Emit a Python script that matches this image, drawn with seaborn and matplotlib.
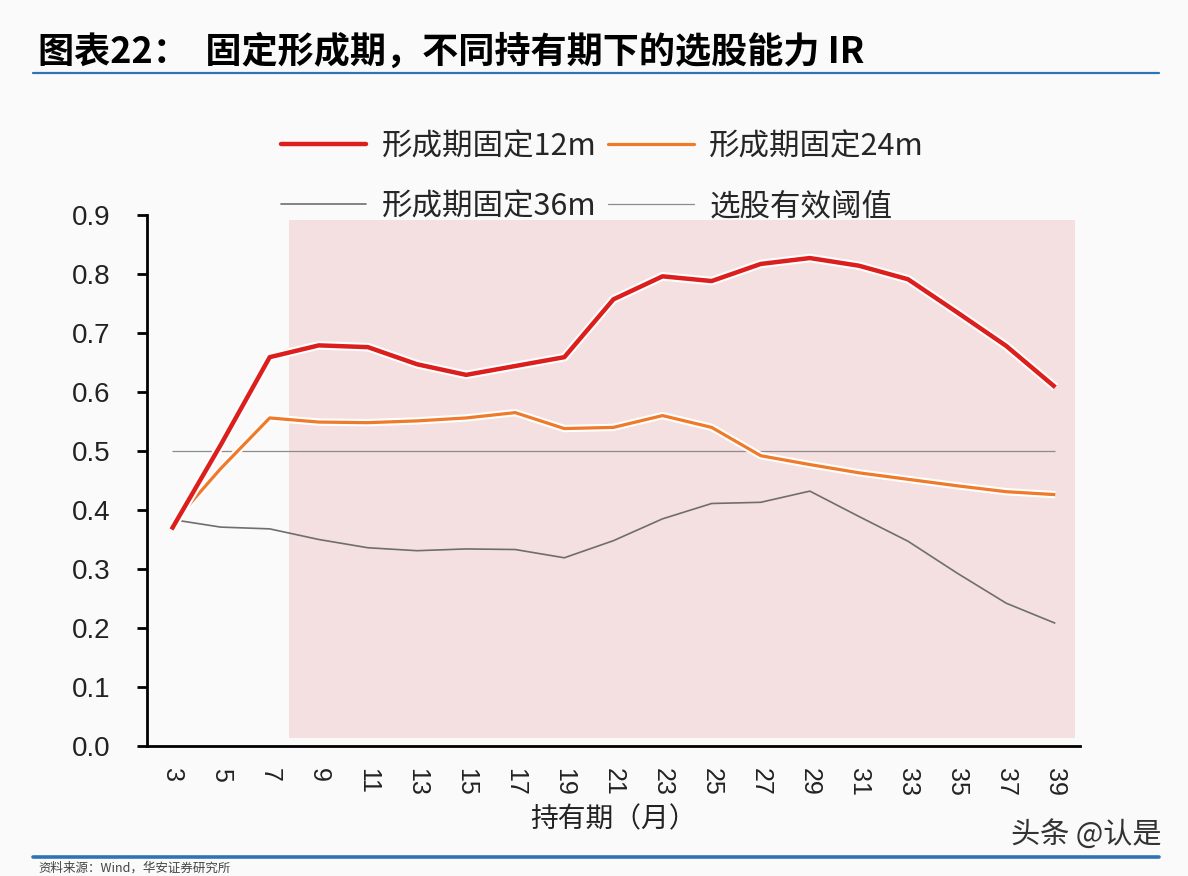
import matplotlib
matplotlib.use("Agg")
import matplotlib.pyplot as plt
import matplotlib.patheffects as pe
from matplotlib.lines import Line2D
import pandas as pd
import seaborn as sns

# holding period (months)
periods = [3, 5, 7, 9, 11, 13, 15, 17, 19, 21, 23, 25, 27, 29, 31, 33, 35, 37, 39]
tick_labels = [str(p) for p in periods]

ir_12m = [0.367, 0.51, 0.659, 0.679, 0.676, 0.647, 0.629, 0.644, 0.659, 0.757,
          0.796, 0.788, 0.817, 0.827, 0.814, 0.791, 0.735, 0.678, 0.608]
ir_24m = [0.375, 0.47, 0.556, 0.549, 0.548, 0.551, 0.556, 0.565, 0.538, 0.540,
          0.560, 0.540, 0.492, 0.477, 0.463, 0.452, 0.441, 0.431, 0.426]
ir_36m = [0.384, 0.371, 0.368, 0.350, 0.336, 0.331, 0.334, 0.333, 0.319, 0.348,
          0.385, 0.411, 0.413, 0.432, 0.389, 0.347, 0.293, 0.242, 0.208]
threshold = [0.5] * len(periods)

names = ["形成期固定12m", "形成期固定24m", "形成期固定36m", "选股有效阈值"]
colors = ["#dc1f1c", "#ef7a2a", "#6e6e6e", "#8c8c8c"]
widths = [3.2, 2.3, 1.2, 0.9]

df = pd.DataFrame({"period": periods, names[0]: ir_12m, names[1]: ir_24m,
                   names[2]: ir_36m, names[3]: threshold})

sns.set_style("white")
plt.rcParams["font.family"] = ["Liberation Sans", "Noto Sans CJK SC", "DejaVu Sans"]
cjk = ["Noto Sans CJK SC", "DejaVu Sans"]

fig = plt.figure(figsize=(11.88, 8.76), dpi=100, facecolor="#fbfafa")
ax = fig.add_axes([0.1237, 0.1484, 0.7853, 0.6062])
ax.set_facecolor("#fbfafa")

# pink highlighted block
ax.axvspan(7.8, 39.82, ymin=0.015, ymax=0.99, color="#f5e0e1", lw=0, zorder=0)

for i in [3, 2, 1, 0]:
    halo = [pe.withStroke(linewidth=widths[i] + 3, foreground="white")] if i < 2 else None
    sns.lineplot(data=df, x="period", y=names[i], color=colors[i], lw=widths[i],
                 ax=ax, zorder=3 + (3 - i), path_effects=halo,
                 solid_capstyle="butt")

ax.set_xlim(2, 40)
ax.set_ylim(0, 0.9)
ax.set_yticks([i / 10 for i in range(10)])
ax.set_yticklabels([f"{i / 10:.1f}" for i in range(10)], fontsize=20, color="#222222")
ax.set_xticks(list(range(2, 41, 2)))
ax.set_xticklabels([])
ax.set_xticks(periods, minor=True)
ax.set_xticklabels(tick_labels, minor=True, rotation=270, fontsize=18, color="#222222")
ax.tick_params(axis="x", which="major", direction="out", length=8, width=2, color="black")
ax.tick_params(axis="x", which="minor", length=0, pad=16)
ax.tick_params(axis="y", direction="out", length=7, width=2, color="black", pad=19, left=True)
for s in ["top", "right"]:
    ax.spines[s].set_visible(False)
for s in ["left", "bottom"]:
    ax.spines[s].set_color("black")
    ax.spines[s].set_linewidth(2)
ax.set_xlabel("持有期（月）", fontsize=20, family=cjk, labelpad=6, color="#222222")
ax.set_ylabel("")

# legend laid out row by row: 12m, 24m / 36m, threshold
leg_order = [0, 2, 1, 3]
handles = [Line2D([], [], color=colors[i], lw=widths[i]) for i in leg_order]
fig.legend(handles, [names[i] for i in leg_order], loc="center",
           bbox_to_anchor=(0.507, 0.7985), ncol=2, frameon=False,
           prop={"family": cjk, "size": 22}, handlelength=2.8,
           handletextpad=0.5, columnspacing=0.4, labelspacing=0.95)

fig.text(0.032, 0.94, "图表22：  固定形成期，不同持有期下的选股能力 IR", fontsize=26,
         fontweight="heavy", family=cjk, va="center", color="black")
fig.add_artist(Line2D([0.028, 0.976], [0.917, 0.917], color="#2e74b5", lw=1.6))
fig.add_artist(Line2D([0.028, 0.976], [0.022, 0.022], color="#2e74b5", lw=2.6))
fig.text(0.978, 0.047, "头条 @认是", fontsize=21, family=cjk, ha="right", va="center",
         color="#333333")
fig.text(0.032, 0.009, "资料来源：Wind，华安证券研究所", fontsize=9, family=cjk,
         va="center", color="#444444")

fig.savefig("out.png", dpi=100, facecolor=fig.get_facecolor())
